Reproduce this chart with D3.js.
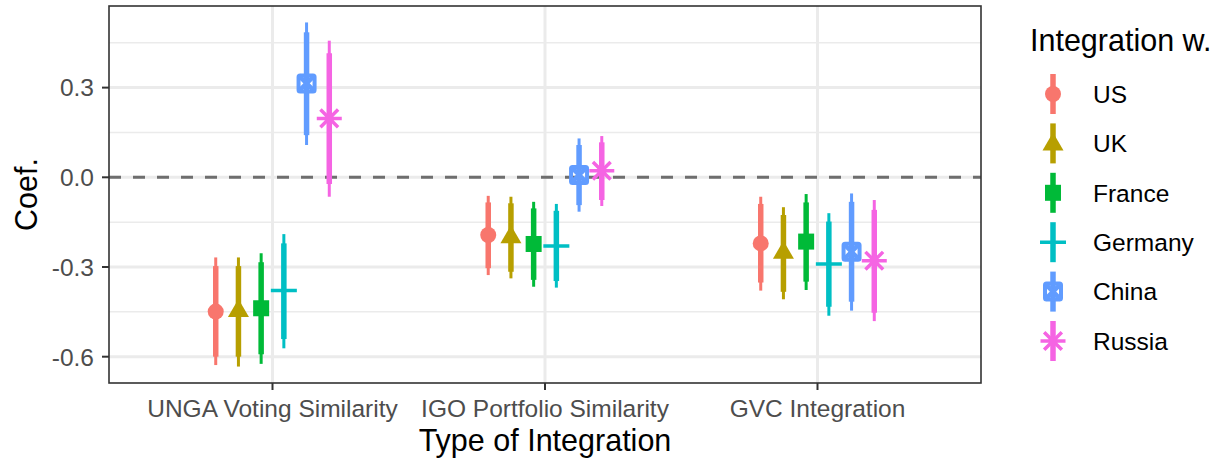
<!DOCTYPE html>
<meta charset="utf-8">
<style>
  body { margin: 0; background: #fff; }
  text { font-family: "Liberation Sans", Arial, sans-serif; }
</style>
<script src="https://d3js.org/d3.v7.min.js"></script>
<div id="my_dataviz"></div>
<script>

// ---- data ----
var categories = ["UNGA Voting Similarity", "IGO Portfolio Similarity", "GVC Integration"];
var countries = ["US", "UK", "France", "Germany", "China", "Russia"];
var colors = ["#F8766D", "#B79F00", "#00BA38", "#00BFC4", "#619CFF", "#F564E3"];
var shapes = ["circle", "triangle", "square", "plus", "squarecross", "asterisk"];

// rows = category, columns = country
var estimate = [
  [-0.449, -0.444, -0.438, -0.379, 0.314, 0.197],
  [-0.193, -0.197, -0.223, -0.230, 0.008, 0.022],
  [-0.221, -0.249, -0.215, -0.290, -0.249, -0.279]
];
var lower90 = [
  [-0.600, -0.600, -0.592, -0.541, 0.141, -0.022],
  [-0.304, -0.316, -0.343, -0.347, -0.093, -0.076],
  [-0.352, -0.383, -0.349, -0.433, -0.416, -0.453]
];
var upper90 = [
  [-0.297, -0.297, -0.284, -0.221, 0.485, 0.415],
  [-0.084, -0.087, -0.104, -0.112, 0.108, 0.117],
  [-0.089, -0.126, -0.084, -0.148, -0.082, -0.109]
];
var lower95 = [
  [-0.628, -0.633, -0.624, -0.572, 0.108, -0.065],
  [-0.327, -0.338, -0.366, -0.369, -0.115, -0.096],
  [-0.379, -0.408, -0.377, -0.463, -0.446, -0.481]
];
var upper95 = [
  [-0.268, -0.268, -0.254, -0.190, 0.518, 0.457],
  [-0.062, -0.065, -0.082, -0.089, 0.130, 0.138],
  [-0.065, -0.100, -0.056, -0.120, -0.054, -0.076]
];
var yTicks = [-0.6, -0.3, 0.0, 0.3];
var yTickLabels = ["-0.6", "-0.3", "0.0", "0.3"];
var yMinor = [-0.45, -0.15, 0.15, 0.45];

// flatten into rows for drawing
var rows = [];
categories.forEach(function(c, i) {
  countries.forEach(function(k, j) {
    rows.push({cat: c, country: k, est: estimate[i][j],
               lo90: lower90[i][j], hi90: upper90[i][j],
               lo95: lower95[i][j], hi95: upper95[i][j]});
  });
});

// ---- layout ----
var W = 1222, H = 459;
var panel = {left: 109, right: 981, top: 6, bottom: 383};

var svg = d3.select("#my_dataviz")
  .append("svg")
    .attr("width", W)
    .attr("height", H);

var x = d3.scalePoint()
  .domain(categories)
  .range([panel.left, panel.right])
  .padding(0.6);

// dodge width 0.5 of a category step
var dodge = d3.scalePoint()
  .domain(countries)
  .range([-x.step() * 0.5 * 5 / 12, x.step() * 0.5 * 5 / 12]);

var y = d3.scaleLinear()
  .domain([-0.688, 0.573])
  .range([panel.bottom, panel.top]);

var color = d3.scaleOrdinal().domain(countries).range(colors);
var shape = d3.scaleOrdinal().domain(countries).range(shapes);

// grid
var grid = svg.append("g");
grid.selectAll(".minor")
  .data(yMinor)
  .enter().append("line")
    .attr("x1", panel.left).attr("x2", panel.right)
    .attr("y1", function(d) { return y(d); })
    .attr("y2", function(d) { return y(d); })
    .attr("stroke", "#ebebeb").attr("stroke-width", 1.5);
grid.selectAll(".major")
  .data(yTicks)
  .enter().append("line")
    .attr("x1", panel.left).attr("x2", panel.right)
    .attr("y1", function(d) { return y(d); })
    .attr("y2", function(d) { return y(d); })
    .attr("stroke", "#ebebeb").attr("stroke-width", 3);
grid.selectAll(".vmajor")
  .data(categories)
  .enter().append("line")
    .attr("y1", panel.top).attr("y2", panel.bottom)
    .attr("x1", function(d) { return x(d); })
    .attr("x2", function(d) { return x(d); })
    .attr("stroke", "#ebebeb").attr("stroke-width", 3);

// zero line
svg.append("line")
  .attr("x1", panel.left).attr("x2", panel.right)
  .attr("y1", y(0)).attr("y2", y(0))
  .attr("stroke", "#6e6e6e")
  .attr("stroke-width", 3)
  .attr("stroke-dasharray", "12,12");

function px(d) { return x(d.cat) + dodge(d.country); }

// thin (95%) ranges
svg.append("g").selectAll("line")
  .data(rows)
  .enter().append("line")
    .attr("x1", px).attr("x2", px)
    .attr("y1", function(d) { return y(d.lo95); })
    .attr("y2", function(d) { return y(d.hi95); })
    .attr("stroke", function(d) { return color(d.country); })
    .attr("stroke-width", 3);

// thick (90%) ranges
svg.append("g").selectAll("line")
  .data(rows)
  .enter().append("line")
    .attr("x1", px).attr("x2", px)
    .attr("y1", function(d) { return y(d.lo90); })
    .attr("y2", function(d) { return y(d.hi90); })
    .attr("stroke", function(d) { return color(d.country); })
    .attr("stroke-width", 5.5);

// point shapes, drawn centred on 0,0
function drawShape(g, s, col) {
  if (s == "circle") {
    g.append("circle").attr("r", 8).attr("fill", col);
  } else if (s == "triangle") {
    g.append("path").attr("d", "M0,-11L10.5,7L-10.5,7Z").attr("fill", col);
  } else if (s == "square") {
    g.append("rect").attr("x", -8).attr("y", -8).attr("width", 16).attr("height", 16).attr("fill", col);
  } else if (s == "plus") {
    g.append("path").attr("d", "M-13,0H13M0,-13V13")
      .attr("stroke", col).attr("stroke-width", 3.5);
  } else if (s == "squarecross") {
    g.append("rect").attr("x", -8).attr("y", -8).attr("width", 16).attr("height", 16)
      .attr("fill", "none").attr("stroke", col).attr("stroke-width", 4).attr("rx", 1.5);
    g.append("path").attr("d", "M-8,-8L8,8M-8,8L8,-8")
      .attr("stroke", col).attr("stroke-width", 4.5);
  } else if (s == "asterisk") {
    var r = 12.5, q = r * Math.SQRT1_2;
    g.append("path")
      .attr("d", "M" + -r + ",0H" + r + "M0," + -r + "V" + r +
                 "M" + -q + "," + -q + "L" + q + "," + q +
                 "M" + -q + "," + q + "L" + q + "," + -q)
      .attr("stroke", col).attr("stroke-width", 3.5);
  }
}

svg.append("g").selectAll("g")
  .data(rows)
  .enter().append("g")
    .attr("transform", function(d) { return "translate(" + px(d) + "," + y(d.est) + ")"; })
    .each(function(d) { drawShape(d3.select(this), shape(d.country), color(d.country)); });

// panel border
svg.append("rect")
  .attr("x", panel.left).attr("y", panel.top)
  .attr("width", panel.right - panel.left)
  .attr("height", panel.bottom - panel.top)
  .attr("fill", "none")
  .attr("stroke", "#333333")
  .attr("stroke-width", 1.6);

// y axis
var yAxis = svg.append("g");
yAxis.selectAll("line")
  .data(yTicks)
  .enter().append("line")
    .attr("x1", panel.left - 7).attr("x2", panel.left)
    .attr("y1", function(d) { return y(d); })
    .attr("y2", function(d) { return y(d); })
    .attr("stroke", "#333333").attr("stroke-width", 2);
yAxis.selectAll("text")
  .data(yTicks)
  .enter().append("text")
    .attr("x", panel.left - 15)
    .attr("y", function(d) { return y(d); })
    .attr("dy", "0.36em")
    .attr("text-anchor", "end")
    .attr("fill", "#4d4d4d")
    .style("font-size", "24.5px")
    .text(function(d, i) { return yTickLabels[i]; });

// x axis
var xAxis = svg.append("g");
xAxis.selectAll("line")
  .data(categories)
  .enter().append("line")
    .attr("x1", function(d) { return x(d); })
    .attr("x2", function(d) { return x(d); })
    .attr("y1", panel.bottom).attr("y2", panel.bottom + 7)
    .attr("stroke", "#333333").attr("stroke-width", 2);
xAxis.selectAll("text")
  .data(categories)
  .enter().append("text")
    .attr("x", function(d) { return x(d); })
    .attr("y", 417)
    .attr("text-anchor", "middle")
    .attr("fill", "#4d4d4d")
    .style("font-size", "24.5px")
    .text(function(d) { return d; });

// axis titles
svg.append("text")
  .attr("x", (panel.left + panel.right) / 2)
  .attr("y", 451)
  .attr("text-anchor", "middle")
  .style("font-size", "30.5px")
  .text("Type of Integration");

svg.append("text")
  .attr("transform", "translate(37," + ((panel.top + panel.bottom) / 2) + ") rotate(-90)")
  .attr("text-anchor", "middle")
  .style("font-size", "30.5px")
  .text("Coef.");

// legend
var legend = svg.append("g");
legend.append("text")
  .attr("x", 1030).attr("y", 51)
  .style("font-size", "30.5px")
  .text("Integration w.");

var keys = legend.selectAll(".key")
  .data(countries)
  .enter().append("g")
    .attr("transform", function(d, i) { return "translate(1053," + (94 + i * 49.4) + ")"; });
keys.append("line")
  .attr("y1", -20).attr("y2", 20)
  .attr("stroke", function(d) { return color(d); })
  .attr("stroke-width", 5.5);
keys.each(function(d) { drawShape(d3.select(this), shape(d), color(d)); });
keys.append("text")
  .attr("x", 40)
  .attr("dy", "0.36em")
  .style("font-size", "24.5px")
  .text(function(d) { return d; });

</script>
